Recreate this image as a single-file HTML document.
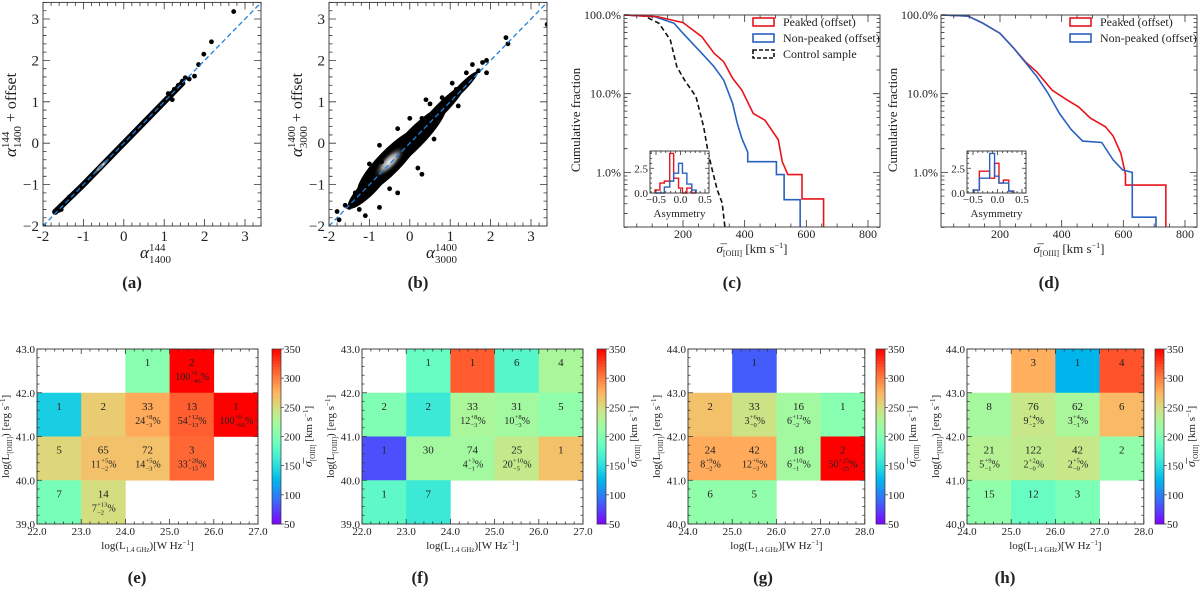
<!DOCTYPE html>
<html><head><meta charset="utf-8"><style>
html,body{margin:0;padding:0;background:#fff;}
svg{display:block;}
svg text{font-family:"Liberation Serif","DejaVu Serif",serif;}
</style></head><body>
<svg id="fig" width="1200" height="593" viewBox="0 0 1200 593">
<defs>
<radialGradient id="coreGrad"><stop offset="0" stop-color="#f4f4f4"/><stop offset="0.45" stop-color="#999"/><stop offset="1" stop-color="#000" stop-opacity="0"/></radialGradient>
</defs>
</svg>
<script>
// ---------- DATA ----------
const scatterA=[[1.85,1.9],[1.98,2.15],[2.17,2.45],[2.72,3.18],[1.62,1.55],[1.45,1.5],[1.52,1.58],[1.75,1.62],[-1.6,-1.62],[-1.55,-1.6],[-1.98,-2.0],[-1.35,-1.3],[1.2,1.05],[1.1,1.2],[1.35,1.4],[1.25,1.3]];
const bandA=[[-1.7,-1.66],[-1.0,-1.0],[-0.5,-0.5],[0.0,0.0],[0.5,0.5],[1.0,1.0],[1.45,1.45]];
const scatterB=[[-1.8,-1.65],[-1.75,-1.85],[-1.5,-1.55],[-1.25,-1.6],[-1.1,-1.75],[-1.35,-1.2],[-0.75,-1.55],[-0.5,-1.1],[-0.3,-1.2],[0.2,-0.6],[0.3,-0.75],[-0.7,-0.45],[-0.3,0.35],[-0.75,-0.05],[0.0,0.6],[0.4,1.05],[0.8,1.1],[1.05,1.45],[1.4,1.7],[1.55,1.9],[1.8,1.95],[1.9,2.0],[1.9,1.7],[1.7,1.75],[2.38,2.55],[2.43,2.4],[3.4,2.87],[1.2,0.9],[0.6,0.1],[1.15,1.3],[-1.6,-1.5],[-1.0,-0.5],[0.5,0.95],[-1.2,-1.1],[0.3,0.6]];
const cloudB=[[-0.5,-0.45,45,12],[0.1,0.1,45,10],[-1.0,-1.05,30,8],[0.75,0.8,35,6],[1.3,1.35,22,4]];
const cRedS=[10,118,200,261,301,332,361,391,428,466,509,522,540,586,586,656,656];
const cRedF=[1,0.95,0.80,0.53,0.326,0.255,0.157,0.111,0.056,0.046,0.026,0.0137,0.0094,0.0094,0.0046,0.0046,0.0015];
const cBlueS=[10,109,171,200,261,301,332,361,376,391,410,410,503,503,528,528,580,580];
const cBlueF=[1,0.95,0.785,0.585,0.326,0.22,0.149,0.075,0.042,0.027,0.018,0.0137,0.0137,0.0094,0.0094,0.0045,0.0045,0.0015];
const cCtrlS=[10,72,122,159,180,205,242,267,280,292,311,327,337];
const cCtrlF=[1,0.98,0.785,0.48,0.22,0.149,0.092,0.038,0.0193,0.0119,0.006,0.0041,0.0015];
const dRedS=[10,96,145,200,245,282,319,369,418,455,493,542,567,592,607,607,738,738];
const dRedF=[1,0.97,0.785,0.585,0.377,0.255,0.19,0.111,0.083,0.068,0.049,0.038,0.029,0.0175,0.0095,0.0069,0.0069,0.0015];
const dBlueS=[10,96,145,200,245,282,319,356,393,431,468,530,567,598,629,629,706,706];
const dBlueF=[1,0.97,0.785,0.585,0.377,0.25,0.166,0.101,0.056,0.035,0.025,0.024,0.0144,0.0107,0.0100,0.0027,0.0027,0.0015];
const cHistEdges=[-0.52,-0.42,-0.33,-0.22,-0.14,-0.04,0.04,0.13,0.23,0.32];
const cHistRed=[0.3,1.0,1.2,4.0,1.5,0.5,0,0.5,0];
const cHistBlue=[0,0,0.6,1.2,2.0,3.0,2.0,0.9,0.3];
const dHistEdges=[-0.48,-0.37,-0.27,-0.16,-0.06,0.03,0.12,0.23,0.33];
const dHistRed=[0.3,2.2,2.2,1.5,3.0,1.0,1.3,0.2];
const dHistBlue=[0.3,1.5,1.5,4.0,1.7,1.0,1.0,0.2];
// heatmaps: rows top -> bottom
const eSig=[[null,null,205,350,null],[140,262,281,314,350],[255,268,268,310,null],[195,250,null,null,null]];
const eCnt=[[null,null,1,2,null],[1,2,33,13,1],[5,65,72,3,null],[7,14,null,null,null]];
const ePct=[[0,3,'100','+0','−46'],[1,2,'24','+8','−3'],[1,3,'54','+12','−13'],[1,4,'100','+0','−60'],[2,1,'11','+5','−2'],[2,2,'14','+5','−3'],[2,3,'33','+28','−15'],[3,1,'7','+13','−2']];
const fSig=[[null,185,315,175,225],[200,160,225,220,210],[80,220,220,240,268],[180,160,null,null,null]];
const fCnt=[[null,1,1,6,4],[2,2,33,31,5],[1,30,74,25,1],[1,7,null,null,null]];
const fPct=[[1,2,'12','+8','−3'],[1,3,'10','+8','−3'],[2,2,'4','+3','−1'],[2,3,'20','+10','−5']];
const gSig=[[null,85,null,null],[268,245,220,205],[280,280,220,350],[210,210,null,null]];
const gCnt=[[null,1,null,null],[2,33,16,1],[24,42,18,2],[6,5,null,null]];
const gPct=[[1,1,'3','+6','−0'],[1,2,'6','+12','−2'],[2,0,'8','+9','−2'],[2,1,'12','+6','−3'],[2,2,'6','+10','−1'],[2,3,'50','+25','−25']];
const hSig=[[null,278,125,318],[222,242,225,272],[232,238,242,210],[210,185,198,null]];
const hCnt=[[null,3,1,4],[8,76,62,6],[21,122,42,2],[15,12,3,null]];
const hPct=[[1,1,'9','+4','−2'],[1,2,'3','+4','−1'],[2,0,'5','+9','−1'],[2,1,'2','+2','−0'],[2,2,'2','+5','−0']];
const cbTicks=[50,100,150,200,250,300,350];

// ---------- HELPERS ----------
const NS='http://www.w3.org/2000/svg';
const svg=document.getElementById('fig');
const FONT='"Liberation Serif","DejaVu Serif",serif';
function mk(tag,attrs,parent,name){
  const e=document.createElementNS(NS,tag);
  for(const k in attrs) e.setAttribute(k,attrs[k]);
  
  
  (parent||svg).appendChild(e);
  return e;
}
function txt(x,y,s,size,anchor,parent,name,extra){
  const t=mk('text',Object.assign({x:x,y:y,'font-size':size,'text-anchor':anchor||'middle',fill:'#222','font-family':FONT},extra||{}),parent,name);
  t.textContent=s; return t;
}
function tsp(t,s,attrs){const e=document.createElementNS(NS,'tspan');for(const k in attrs)e.setAttribute(k,attrs[k]);e.textContent=s;t.appendChild(e);return e;}
function frame(g,x0,y0,x1,y1,xMaj,xMin,yMaj,yMin,L){
  mk('rect',{x:x0,y:y0,width:x1-x0,height:y1-y0,fill:'none',stroke:'#333','stroke-width':0.9},g,'plot-frame');
  let d='';
  xMaj.forEach(x=>{d+=`M${x},${y1}v${-L}M${x},${y0}v${L}`;});
  xMin.forEach(x=>{d+=`M${x},${y1}v${-L/2}M${x},${y0}v${L/2}`;});
  yMaj.forEach(y=>{d+=`M${x0},${y}h${L}M${x1},${y}h${-L}`;});
  yMin.forEach(y=>{d+=`M${x0},${y}h${L/2}M${x1},${y}h${-L/2}`;});
  mk('path',{d:d,stroke:'#333','stroke-width':0.8,fill:'none'},g,'ticks');
}
function range(a,b,s){const r=[];for(let v=a;v<=b+1e-9;v+=s)r.push(+v.toFixed(6));return r;}
function rainbow(x){x=Math.max(0,Math.min(1,x));const r=Math.min(1,Math.abs(2*x-0.5)),g=Math.sin(Math.PI*x),b=Math.cos(Math.PI*x/2);return `rgb(${Math.round(r*255)},${Math.round(g*255)},${Math.round(b*255)})`;}

// ---------- SCATTER PANELS ----------
function scatterPanel(X0,name,pts,band,cloud,sup,sub,label,lx){
  const g=mk('g',{},svg,name);
  const sx=v=>X0+(v+2)*40.4, sy=v=>226-(v+2)*41.4;
  const clipId='clip-'+name;
  const cp=mk('clipPath',{id:clipId},g,'clip');
  mk('rect',{x:X0,y:2.4,width:218,height:223.6},cp,'clip-rect');
  const pg=mk('g',{'clip-path':`url(#${clipId})`},g,'points');
  if(band){
    mk('polyline',{points:band.map(p=>sx(p[0])+','+sy(p[1])).join(' '),fill:'none',stroke:'#000','stroke-width':6,'stroke-linecap':'round'},pg,'density-band');
    mk('ellipse',{cx:sx(-0.55),cy:sy(-0.55),rx:14,ry:2.5,transform:`rotate(-45 ${sx(-0.55)} ${sy(-0.55)})`,fill:'url(#coreGrad)'},pg,'density-core');
  }
  if(cloud){
    cloud.forEach(c=>{const cx=sx(c[0]),cy=sy(c[1]);
      mk('ellipse',{cx:cx,cy:cy,rx:c[2],ry:c[3],transform:`rotate(-45.7 ${cx} ${cy})`,fill:'#000'},pg,'density-cloud');});
    const cx=sx(-0.5),cy=sy(-0.45);
    mk('ellipse',{cx:cx,cy:cy,rx:22,ry:8,transform:`rotate(-45.7 ${cx} ${cy})`,fill:'url(#coreGrad)'},pg,'density-core');
  }
  pts.forEach(p=>{mk('circle',{cx:sx(p[0]),cy:sy(p[1]),r:2.4,fill:'#000'},pg,'data-point');});
  mk('line',{x1:sx(-2),y1:sy(-2),x2:sx(3.4),y2:sy(3.4),stroke:'#1e7fe0','stroke-width':1.3,'stroke-dasharray':'5,3'},pg,'one-to-one-line');
  frame(g,X0,2.4,X0+218,226,range(-2,3,1).map(sx),range(-2,3.4,0.2).map(sx),range(-2,3,1).map(sy),range(-2,3.4,0.2).map(sy),7);
  range(-2,3,1).forEach(v=>{txt(sx(v),241,v<0?'-'+(-v):String(v),15,'middle',g,'x-tick-label');});
  range(-2,3,1).forEach(v=>{txt(X0-4,sy(v)+5,v<0?'−'+(-v):String(v),15,'end',g,'y-tick-label');});
  const xt=txt(X0+109-12,258,'α',17,'start',g,'x-axis-title',{'font-style':'italic'});
  tsp(xt,sup,{'font-size':11,dy:-7,'font-style':'normal'});
  tsp(xt,sub,{'font-size':11,dx:-(sup.length*5.5),dy:12,'font-style':'normal'});
  const yt=txt(0,0,'α',17,'middle',g,'y-axis-title',{transform:`translate(${X0-27},115) rotate(-90)`,'font-style':'italic'});
  tsp(yt,sup,{'font-size':11,dy:-7,'font-style':'normal'});
  tsp(yt,sub,{'font-size':11,dx:-(sup.length*5.5),dy:12,'font-style':'normal'});
  tsp(yt,' + offset',{'font-size':16,dy:-5,'font-style':'normal'});
  txt(lx,288,label,17,'middle',g,'panel-label',{'font-weight':'bold'});
}
scatterPanel(43,'panel-a',scatterA,bandA,null,'144','1400','(a)',132);
scatterPanel(329,'panel-b',scatterB,null,cloudB,'1400','3000','(b)',418);

// ---------- CDF PANELS ----------
function linePath(S,F,sx,sy){
  let d=`M${sx(S[0])},${sy(F[0])}`;
  for(let i=1;i<S.length;i++){d+=`L${sx(S[i])},${sy(F[i])}`;}
  return d;
}
function cdfPanel(X0,name,series,legend,hEdges,hRed,hBlue,label){
  const g=mk('g',{},svg,name);
  const X1=X0+256, Y0=15, Y1=227;
  const sx=v=>X0+59+(v-200)*0.3083;
  const sy=f=>Math.min(Y1+3,Y0-Math.log10(f)*78.7);
  const clipId='clip-'+name;
  const cp=mk('clipPath',{id:clipId},g,'clip');
  mk('rect',{x:X0,y:Y0-1,width:256,height:Y1-Y0+1},cp,'clip-rect');
  const pg=mk('g',{'clip-path':`url(#${clipId})`},g,'curves');
  series.forEach(s=>{mk('path',{d:linePath(s.S,s.F,sx,sy),fill:'none',stroke:s.c,'stroke-width':1.6,'stroke-dasharray':s.dash||'none'},pg,s.name);});
  const yMin=[];[-3,-2,-1].forEach(e=>{for(let m=2;m<=9;m++){const f=m*Math.pow(10,e);if(f>=0.002)yMin.push(sy(f));}});
  frame(g,X0,Y0,X1,Y1,range(200,800,200).map(sx),range(50,800,50).map(sx),[1,0.1,0.01].map(sy),yMin,7);
  range(200,800,200).forEach(v=>{txt(sx(v),238,String(v),12,'middle',g,'x-tick-label');});
  [[1,'100.0%'],[0.1,'10.0%'],[0.01,'1.0%']].forEach(p=>{txt(X0-3,sy(p[0])+4,p[1],12,'end',g,'y-tick-label');});
  const xt=txt(X0+128,253,'σ̅',13,'middle',g,'x-axis-title',{'font-style':'italic'});
  tsp(xt,'[OIII]',{'font-size':8,dy:3,'font-style':'normal'});
  tsp(xt,' [km s',{'font-size':13,dy:-3,'font-style':'normal'});
  tsp(xt,'−1',{'font-size':8,dy:-5,'font-style':'normal'});
  tsp(xt,']',{'font-size':13,dy:5,'font-style':'normal'});
  txt(0,0,'Cumulative  fraction',13,'middle',g,'y-axis-title',{transform:`translate(${X0-44},120) rotate(-90)`,'xml:space':'preserve'});
  legend.forEach((l,i)=>{const y=22+i*16;
    mk('rect',{x:X0+129,y:y-4,width:21,height:8,fill:'none',stroke:l.c,'stroke-width':1.6,'stroke-dasharray':l.dash||'none'},g,'legend-swatch');
    txt(X0+159,y+4,l.t,12,'start',g,'legend-entry');});
  const IX0=X0+26, IX1=X0+85, IY0=151, IY1=193;
  const ix=v=>IX0+6+(v+0.5)*49, iy=v=>IY1-v*9.9;
  const ig=mk('g',{},g,'inset-histogram');
  mk('rect',{x:IX0,y:IY0,width:IX1-IX0,height:IY1-IY0,fill:'#fff'},ig,'inset-bg');
  [[hRed,'#e8141c','hist-red'],[hBlue,'#2a62c0','hist-blue']].forEach(h=>{
    let d=`M${ix(hEdges[0])},${iy(0)}`;
    h[0].forEach((v,i)=>{d+=`V${iy(v)}H${ix(hEdges[i+1])}`;});
    d+=`V${iy(0)}`;
    mk('path',{d:d,fill:'none',stroke:h[1],'stroke-width':1.4},ig,h[2]);
  });
  frame(ig,IX0,IY0,IX1,IY1,[-0.5,0,0.5].map(ix),range(-0.6,0.6,0.1).map(ix).filter(x=>x>IX0&&x<IX1),[0,2.5].map(iy),range(0.5,4,0.5).map(iy),4);
  [[-0.5,'−0.5'],[0,'0.0'],[0.5,'0.5']].forEach(p=>{txt(ix(p[0]),203,p[1],11,'middle',ig,'inset-x-tick-label');});
  [[0,'0.0'],[2.5,'2.5']].forEach(p=>{txt(IX0-2,iy(p[0])+4,p[1],11,'end',ig,'inset-y-tick-label');});
  txt((IX0+IX1)/2,217,'Asymmetry',11,'middle',ig,'inset-x-title');
  txt(X0+108,288,label,17,'middle',g,'panel-label',{'font-weight':'bold'});
}
cdfPanel(624,'panel-c',[
  {S:cCtrlS,F:cCtrlF,c:'#111',dash:'5,3',name:'control-sample-curve'},
  {S:cBlueS,F:cBlueF,c:'#2a62c0',name:'non-peaked-curve'},
  {S:cRedS,F:cRedF,c:'#e8141c',name:'peaked-curve'}],
  [{t:'Peaked (offset)',c:'#e8141c'},{t:'Non-peaked (offset)',c:'#2a62c0'},{t:'Control sample',c:'#111',dash:'4,2'}],
  cHistEdges,cHistRed,cHistBlue,'(c)');
cdfPanel(941,'panel-d',[
  {S:dRedS,F:dRedF,c:'#e8141c',name:'peaked-curve'},
  {S:dBlueS,F:dBlueF,c:'#2a62c0',name:'non-peaked-curve'}],
  [{t:'Peaked (offset)',c:'#e8141c'},{t:'Non-peaked (offset)',c:'#2a62c0'}],
  dHistEdges,dHistRed,dHistBlue,'(d)');

// ---------- HEATMAPS ----------
function heat(name,X0,xStart,yStart,sig,cnt,pct,cbX,label,lx){
  const g=mk('g',{},svg,name);
  const W=44.2,H=43.75,Y0=349,nc=sig[0].length,X1=X0+nc*W,Y1=Y0+4*H;
  sig.forEach((row,r)=>row.forEach((v,c)=>{ if(v==null) return;
    mk('rect',{x:X0+c*W,y:Y0+r*H,width:W+0.3,height:H+0.3,fill:rainbow((v-50)/300)},g,'heatmap-cell');
    txt(X0+(c+0.5)*W,Y0+r*H+17,String(cnt[r][c]),11,'middle',g,'cell-count');
  }));
  pct.forEach(p=>{const [r,c,m,su,sb]=p;
    const cx=X0+(c+0.5)*W,y=Y0+r*H+31;
    const w=m.length*5+Math.max(su.length,sb.length)*3.3+8;
    let x=cx-w/2;
    txt(x,y,m,10,'start',g,'cell-percent');
    x+=m.length*5+0.3;
    txt(x,y-5,su,6.5,'start',g,'cell-percent-upper');
    txt(x,y+3,sb,6.5,'start',g,'cell-percent-lower');
    x+=Math.max(su.length,sb.length)*3.3+0.3;
    txt(x,y,'%',10,'start',g,'cell-percent-sign');
  });
  const xs=[],xm=[];for(let i=0;i<=nc;i++){xs.push(X0+i*W);}
  for(let i=0;i<nc*5;i++)xm.push(X0+i*W/5);
  const ys=[],ym=[];for(let i=0;i<=4;i++)ys.push(Y0+i*H);for(let i=0;i<20;i++)ym.push(Y0+i*H/5);
  frame(g,X0,Y0,X1,Y1,xs,xm,ys,ym,5);
  for(let i=0;i<=nc;i++)txt(X0+i*W,535,(xStart+i).toFixed(1),11,'middle',g,'x-tick-label');
  for(let i=0;i<=4;i++)txt(X0-2,Y0+i*H+4,(yStart+4-i).toFixed(1),11,'end',g,'y-tick-label');
  const xt=txt((X0+X1)/2,549,'log(L',11,'middle',g,'x-axis-title');
  tsp(xt,'1.4 GHz',{'font-size':7,dy:3});
  tsp(xt,')[W Hz',{'font-size':11,dy:-3});
  tsp(xt,'−1',{'font-size':7,dy:-4});
  tsp(xt,']',{'font-size':11,dy:4});
  const yt=txt(0,0,'log(L',11,'middle',g,'y-axis-title',{transform:`translate(${X0-28},${(Y0+Y1)/2}) rotate(-90)`});
  tsp(yt,'[OIII]',{'font-size':7,dy:3});
  tsp(yt,') [erg s',{'font-size':11,dy:-3});
  tsp(yt,'−1',{'font-size':7,dy:-4});
  tsp(yt,']',{'font-size':11,dy:4});
  const cb=mk('g',{},g,'colorbar');
  const N=60;
  for(let i=0;i<N;i++){
    mk('rect',{x:cbX,y:Y1-(i+1)*(Y1-Y0)/N,width:9,height:(Y1-Y0)/N+0.4,fill:rainbow((i+0.5)/N)},cb,'colorbar-segment');
  }
  mk('rect',{x:cbX,y:Y0,width:9,height:Y1-Y0,fill:'none',stroke:'#333','stroke-width':0.7},cb,'colorbar-frame');
  cbTicks.forEach(v=>{const y=Y1-(v-50)/300*(Y1-Y0);
    mk('line',{x1:cbX+9,x2:cbX+12,y1:y,y2:y,stroke:'#333','stroke-width':0.7},cb,'colorbar-tick');
    txt(cbX+12,y+4,String(v),11,'start',cb,'colorbar-tick-label');});
  const ct=txt(0,0,'σ̅',12,'middle',cb,'colorbar-title',{transform:`translate(${cbX+40},${(Y0+Y1)/2}) rotate(-90)`,'font-style':'italic'});
  tsp(ct,'[OIII]',{'font-size':7,dy:3,'font-style':'normal'});
  tsp(ct,' [km s',{'font-size':11,dy:-3,'font-style':'normal'});
  tsp(ct,'−1',{'font-size':7,dy:-4,'font-style':'normal'});
  tsp(ct,']',{'font-size':11,dy:4,'font-style':'normal'});
  txt(lx,583,label,17,'middle',g,'panel-label',{'font-weight':'bold'});
}
heat('panel-e',37,22,39,eSig,eCnt,ePct,272,'(e)',137);
heat('panel-f',362,22,39,fSig,fCnt,fPct,597,'(f)',420);
heat('panel-g',688,24,40,gSig,gCnt,gPct,876,'(g)',763);
heat('panel-h',967,24,40,hSig,hCnt,hPct,1155,'(h)',1005);
</script>
</body></html>
